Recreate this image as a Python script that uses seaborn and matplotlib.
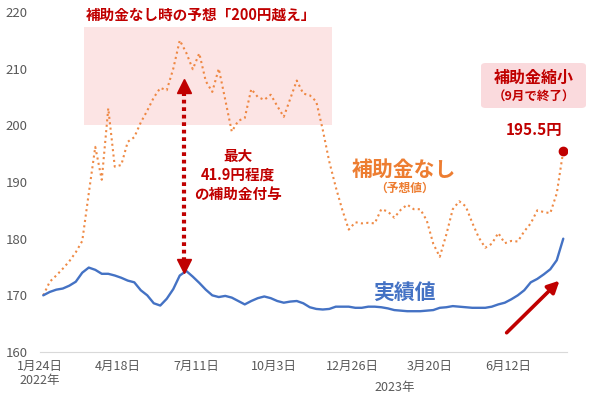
import matplotlib
matplotlib.use('Agg')
import matplotlib.pyplot as plt
import matplotlib.transforms as mtransforms
from matplotlib.patches import Rectangle, FancyBboxPatch
import numpy as np
import pandas as pd
import seaborn as sns

# weekly regular gasoline price (yen / L), 2022-01-24 .. 2023-08-07
start_date = '2022-01-24'
n_weeks = 81

actual = [
    170.0, 170.6, 171.0, 171.2, 171.7, 172.4, 174.0, 174.9, 174.5, 173.8,
    173.8, 173.5, 173.1, 172.6, 172.3, 170.9, 170.0, 168.6, 168.2, 169.4,
    171.1, 173.5, 174.3, 173.3, 172.2, 171.0, 170.0, 169.7, 169.9, 169.6,
    169.0, 168.4, 169.0, 169.5, 169.8, 169.5, 169.0, 168.7, 168.9, 169.0,
    168.6, 167.9, 167.6, 167.5, 167.6, 168.0, 168.0, 168.0, 167.8, 167.8,
    168.0, 168.0, 167.9, 167.7, 167.4, 167.3, 167.2, 167.2, 167.2, 167.3,
    167.4, 167.8, 167.9, 168.1, 168.0, 167.9, 167.8, 167.8, 167.8, 168.0,
    168.4, 168.7, 169.3, 170.0, 170.9, 172.3, 172.9, 173.7, 174.6, 176.2,
    180.0,
]

no_subsidy = [
    170.0, 172.4, 173.5, 174.7, 176.0, 177.6, 179.6, 188.0, 196.2, 190.4,
    203.0, 192.7, 193.0, 197.1, 197.9, 200.5, 202.6, 204.9, 206.6, 206.2,
    210.0, 215.0, 212.8, 209.9, 212.7, 207.8, 205.9, 210.0, 204.5, 198.9,
    200.8, 201.3, 206.4, 205.0, 204.5, 205.4, 203.4, 201.5, 204.7, 207.9,
    205.6, 205.3, 204.2, 199.2, 193.6, 189.1, 185.1, 181.6, 182.9, 182.7,
    182.8, 182.7, 185.2, 184.8, 183.7, 185.1, 186.0, 185.2, 185.2, 183.2,
    179.1, 176.8, 180.7, 185.2, 186.6, 185.7, 182.8, 180.2, 178.4, 179.1,
    181.0, 179.2, 179.6, 179.5, 181.3, 182.7, 185.0, 184.7, 184.5, 188.0,
    195.5,
]

tick_dates = ['2022-01-24', '2022-04-18', '2022-07-11', '2022-10-03',
              '2022-12-26', '2023-03-20', '2023-06-12']
tick_labels = ['1月24日\n2022年', '4月18日', '7月11日', '10月3日',
               '12月26日', '3月20日', '6月12日']

max_gap = 41.9
last_no_subsidy = 195.5

dates = pd.date_range(start_date, periods=n_weeks, freq='7D')
df = pd.DataFrame({'date': dates, '実績値': actual, '補助金なし': no_subsidy})

BLUE = '#4472C4'
ORANGE = '#ED7D31'
DARKRED = '#C00000'
GRAY = '#595959'

sns.set_style('white')
plt.rcParams['font.family'] = ['Noto Sans CJK JP', 'DejaVu Sans']

fig = plt.figure(figsize=(6, 3.93), dpi=100)
ax = fig.add_axes([0.0667, 0.1043, 0.8775, 0.8652])

half = pd.Timedelta(days=3.5)
ax.set_xlim(dates[0] - half, dates[-1] + half)
ax.set_ylim(160, 220)

# pink band "200円越え"
trans = mtransforms.blended_transform_factory(ax.transAxes, ax.transData)
ax.add_patch(Rectangle((0.0836, 200), 0.4705, 17.4, transform=trans,
                       facecolor='#FCE4E4', edgecolor='none', zorder=0))

sns.lineplot(data=df, x='date', y='補助金なし', ax=ax, color=ORANGE,
             linestyle=(0, (1, 1.6)), linewidth=1.5, alpha=0.9, zorder=3)
sns.lineplot(data=df, x='date', y='実績値', ax=ax, color=BLUE,
             linewidth=1.7, zorder=4)

# last point marker
ax.plot(dates[-1], last_no_subsidy, 'o', color=DARKRED, ms=6, zorder=5)

# double arrow at the biggest gap
i_peak = int(np.argmax(np.array(no_subsidy) - np.array(actual)))
xa = dates[i_peak] + pd.Timedelta(days=5)
ax.plot([xa, xa], [176.0, 206.3], color=DARKRED, linewidth=3,
        linestyle=(0, (0.9, 0.9)), zorder=6)
ax.plot(xa, 207.0, marker='^', color=DARKRED, ms=10, zorder=6)
ax.plot(xa, 175.2, marker='v', color=DARKRED, ms=10, zorder=6)

# rising arrow bottom right
ax.annotate('', xy=(dates[79] + pd.Timedelta(days=3), 172.6),
            xytext=(dates[71] + pd.Timedelta(days=2), 163.4),
            arrowprops=dict(arrowstyle='-|>,head_length=0.7,head_width=0.35',
                            color=DARKRED, lw=2.6, shrinkA=0, shrinkB=0),
            zorder=6)

# axes styling
for s in ['top', 'right', 'left']:
    ax.spines[s].set_visible(False)
ax.spines['bottom'].set_color('#D9D9D9')
ax.set_yticks([160, 170, 180, 190, 200, 210, 220])
ax.tick_params(axis='y', length=0, pad=9, labelsize=9.5, labelcolor=GRAY)
ax.set_xticks(pd.to_datetime(tick_dates) - half)
ax.set_xticklabels(tick_labels, linespacing=1.05)
ax.tick_params(axis='x', length=4, color='#D9D9D9', labelsize=9,
               labelcolor=GRAY, pad=2, direction='out')
ax.set_xlabel('')
ax.set_ylabel('')
ax.grid(False)
if ax.get_legend():
    ax.get_legend().remove()

def fx(px):
    return px / 600

def fy(py):
    return 1 - py / 393

fig.text(fx(201), fy(15), '補助金なし時の予想「200円越え」', color=DARKRED,
         fontsize=10.5, fontweight='bold', ha='center', va='center')
fig.text(fx(238), fy(175), f'最大\n{max_gap}円程度\nの補助金付与', color=DARKRED,
         fontsize=10.5, fontweight='bold', ha='center', va='center',
         linespacing=1.2)
fig.text(fx(404), fy(169), '補助金なし', color=ORANGE, fontsize=15,
         fontweight='bold', ha='center', va='center')
fig.text(fx(405), fy(188), '（予想値）', color=ORANGE, fontsize=8.5,
         fontweight='bold', ha='center', va='center')
fig.text(fx(404), fy(292), '実績値', color=BLUE, fontsize=15,
         fontweight='bold', ha='center', va='center')

box = FancyBboxPatch((fx(481), fy(108)), fx(105), 45 / 393,
                     boxstyle='round,pad=0,rounding_size=0.008',
                     transform=fig.transFigure, facecolor='#FADADD',
                     edgecolor='none', zorder=1)
fig.patches.append(box)
fig.text(fx(534), fy(78), '補助金縮小', color=DARKRED, fontsize=11.5,
         fontweight='bold', ha='center', va='center')
fig.text(fx(534), fy(97), '（9月で終了）', color=DARKRED, fontsize=9,
         fontweight='bold', ha='center', va='center')
fig.text(fx(534), fy(130), f'{last_no_subsidy}円', color=DARKRED,
         fontsize=11, fontweight='bold', ha='center', va='center')

fig.text(fx(395), fy(387), '2023年', color=GRAY, fontsize=9,
         ha='center', va='center')

fig.savefig('out.png', dpi=100)
